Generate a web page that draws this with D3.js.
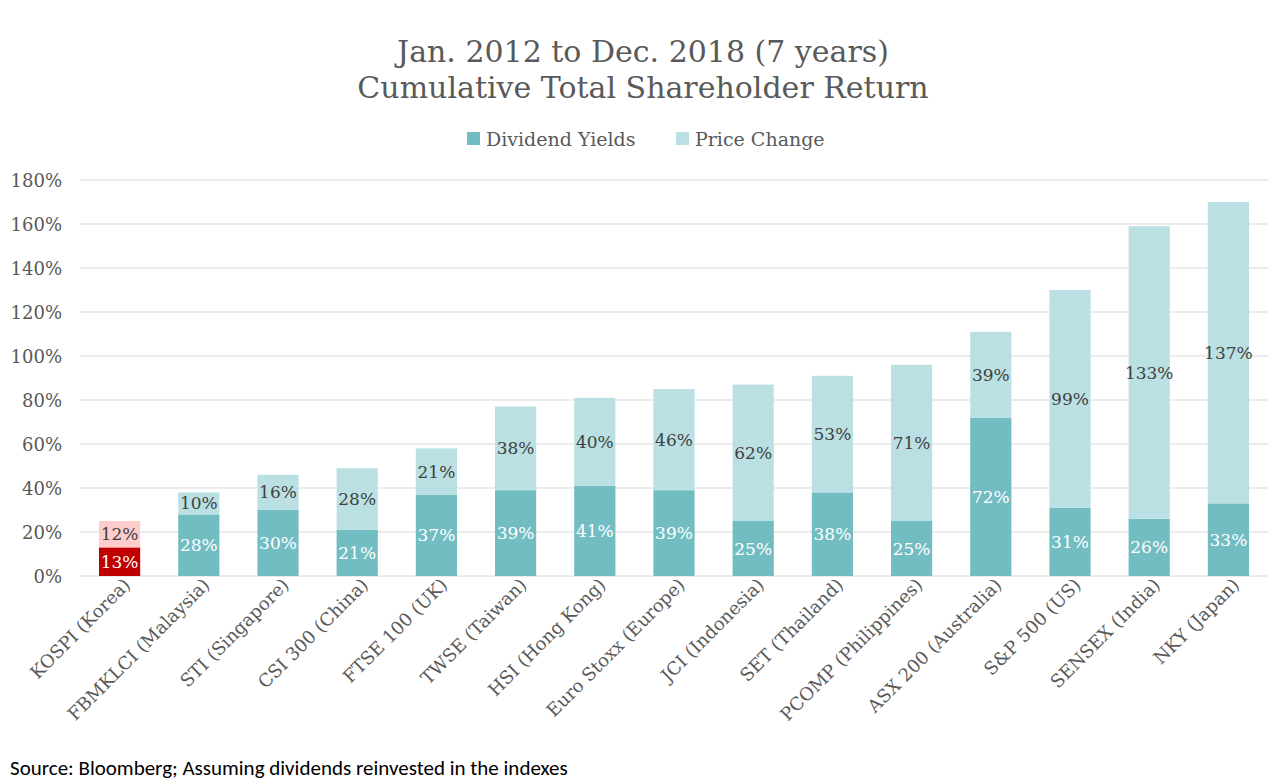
<!DOCTYPE html>
<html><head><meta charset="utf-8">
<script src="https://cdn.jsdelivr.net/npm/d3@7"></script>
<style>body{margin:0;background:#fff}svg{display:block}</style>
</head><body>
<svg id="c" width="1287" height="782"></svg>
<script>
const categories = ["KOSPI (Korea)","FBMKLCI (Malaysia)","STI (Singapore)","CSI 300 (China)","FTSE 100 (UK)","TWSE (Taiwan)","HSI (Hong Kong)","Euro Stoxx (Europe)","JCI (Indonesia)","SET (Thailand)","PCOMP (Philippines)","ASX 200 (Australia)","S&P 500 (US)","SENSEX (India)","NKY (Japan)"];
const dividendYields = [13,28,30,21,37,39,41,39,25,38,25,72,31,26,33];
const priceChange = [12,10,16,28,21,38,40,46,62,53,71,39,99,133,137];
const yTicks = [0,20,40,60,80,100,120,140,160,180];
const seriesNames = ["Dividend Yields","Price Change"];

const serif = "Georgia, 'DejaVu Serif', serif";
const svg = d3.select("#c");
const W = 1287, H = 782;
const m = {l:80, r:19, t:180, b:206};
const x = d3.scaleBand().domain(categories).range([m.l, W-m.r]).paddingInner(0.48).paddingOuter(0.24);
const y = d3.scaleLinear().domain([0,180]).range([H-m.b, m.t]);

// title
svg.append("text").attr("x",643).attr("y",62).attr("text-anchor","middle")
  .style("font-family",serif).style("font-size","30px").style("fill","#595959")
  .text("Jan. 2012 to Dec. 2018 (7 years)");
svg.append("text").attr("x",643).attr("y",98).attr("text-anchor","middle")
  .style("font-family",serif).style("font-size","30px").style("fill","#595959")
  .text("Cumulative Total Shareholder Return");

// legend
const leg = [{n:seriesNames[0],c:"#72BDC2",x:467},{n:seriesNames[1],c:"#BAE0E3",x:676}];
leg.forEach(d=>{
  svg.append("rect").attr("x",d.x).attr("y",132).attr("width",13).attr("height",13).attr("fill",d.c);
  svg.append("text").attr("x",d.x+19).attr("y",146).style("font-family",serif).style("font-size","19px")
    .style("fill","#595959").text(d.n);
});

// grid
const gy = svg.append("g");
gy.selectAll("line").data(yTicks).join("line")
  .attr("x1",m.l).attr("x2",W-m.r).attr("y1",d=>y(d)).attr("y2",d=>y(d))
  .attr("stroke","#D9D9D9").attr("stroke-width",1);
gy.selectAll("text").data(yTicks).join("text")
  .attr("x",62).attr("y",d=>y(d)+7).attr("text-anchor","end")
  .style("font-family",serif).style("font-size","18px").style("fill","#595959")
  .text(d=>d+"%");

const data = categories.map((c,i)=>({c,i,d:dividendYields[i],p:priceChange[i]}));
const g = svg.append("g");
data.forEach(o=>{
  const isK = o.i===0;
  const cd = isK?"#C00000":"#72BDC2", cp = isK?"#FFCCCC":"#BAE0E3";
  const bx = x(o.c), bw = x.bandwidth();
  g.append("rect").attr("x",bx).attr("width",bw).attr("y",y(o.d)).attr("height",y(0)-y(o.d)).attr("fill",cd);
  g.append("rect").attr("x",bx).attr("width",bw).attr("y",y(o.d+o.p)).attr("height",y(o.d)-y(o.d+o.p)).attr("fill",cp);
  g.append("text").attr("x",bx+bw/2).attr("y",(y(0)+y(o.d))/2+6).attr("text-anchor","middle")
    .style("font-family",serif).style("font-size","17px").style("fill","#fff").text(o.d+"%");
  g.append("text").attr("x",bx+bw/2).attr("y",(y(o.d)+y(o.d+o.p))/2+6).attr("text-anchor","middle")
    .style("font-family",serif).style("font-size","17px").style("fill","#404040").text(o.p+"%");
  const cx = bx+bw/2;
  g.append("text").attr("transform",`translate(${cx+12},${y(0)+10}) rotate(-45)`)
    .attr("text-anchor","end").style("font-family",serif).style("font-size","18px").style("fill","#595959")
    .text(o.c);
});

svg.append("text").attr("x",10).attr("y",775).style("font-family","Carlito, Calibri, 'Liberation Sans', sans-serif")
  .style("font-size","21px").style("fill","#000").text("Source: Bloomberg; Assuming dividends reinvested in the indexes");
</script>
</body></html>
